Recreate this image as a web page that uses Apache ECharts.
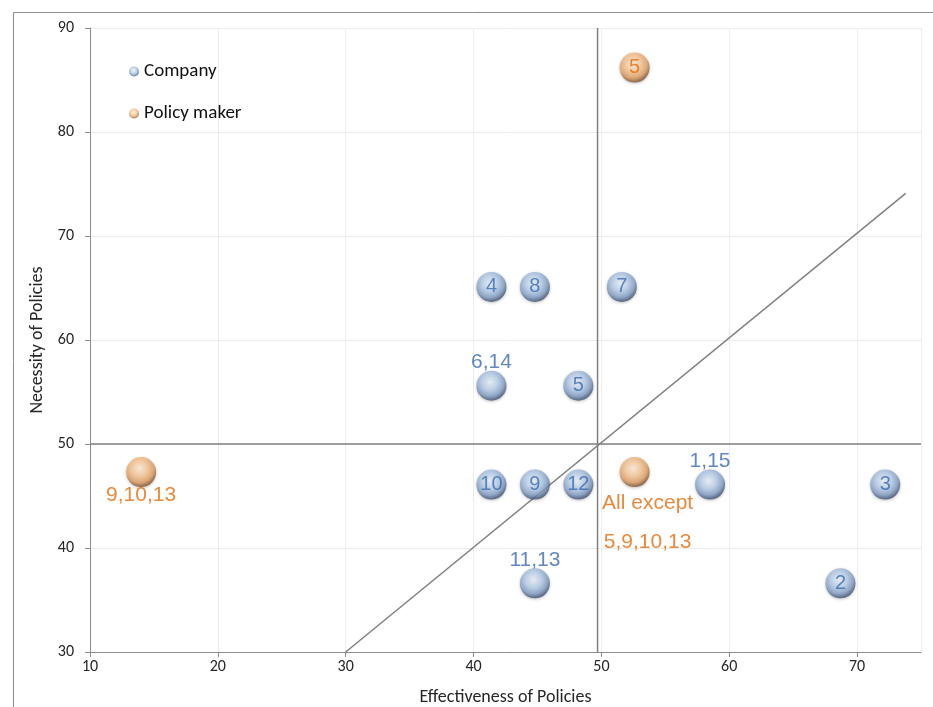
<!DOCTYPE html>
<html>
<head>
<meta charset="utf-8">
<script src="https://cdn.jsdelivr.net/npm/echarts@6/dist/echarts.min.js"></script>
<style>
  html, body { margin: 0; padding: 0; background: #fff; }
  #chart { width: 933px; height: 707px; }
</style>
</head>
<body>
<div id="chart"></div>
<script>
// Company ratings: effectiveness (x) vs necessity (y) per policy group
const companyX = [41.4, 44.8, 51.6, 41.4, 48.2, 41.4, 44.8, 48.2, 58.5, 72.2, 44.8, 68.7];
const companyY = [65.1, 65.1, 65.1, 55.6, 55.6, 46.1, 46.1, 46.1, 46.1, 46.1, 36.6, 36.6];
const companyLabels = ['4', '8', '7', '6,14', '5', '10', '9', '12', '1,15', '3', '11,13', '2'];

// Policy maker ratings
const policyX = [52.6, 14.0, 52.6];
const policyY = [86.2, 47.3, 47.3];
const policyLabels = ['5', '9,10,13', 'All except\n5,9,10,13'];

// Quadrant divider and diagonal reference
const hLineX = [10, 75];
const hLineY = [50, 50];
const vLineX = [49.7, 49.7];
const vLineY = [30, 90];
const diagX = [30, 73.8];
const diagY = [30, 74.1];

const xTicks = { min: 10, max: 75, interval: 10 };
const yTicks = { min: 30, max: 90, interval: 10 };

const blueSphere = {
  type: 'radial', x: 0.45, y: 0.38, r: 0.6,
  colorStops: [
    { offset: 0, color: '#eef5fd' },
    { offset: 0.45, color: '#b8d0ed' },
    { offset: 0.78, color: '#839fc6' },
    { offset: 1, color: '#43577a' }
  ]
};
const orangeSphere = {
  type: 'radial', x: 0.45, y: 0.38, r: 0.6,
  colorStops: [
    { offset: 0, color: '#fff0de' },
    { offset: 0.45, color: '#fbc895' },
    { offset: 0.78, color: '#e29f62' },
    { offset: 1, color: '#885830' }
  ]
};

const BLUE_TEXT = '#3a6ab0';
const ORANGE_TEXT = '#e46c0a';

function labelPlacement(text, color) {
  const base = { show: true, formatter: text, color: color,
    fontFamily: 'Liberation Sans, Arial, sans-serif', fontSize: 21 };
  if (text.indexOf('\n') >= 0) {
    return Object.assign(base, { position: 'inside', offset: [13, 51], lineHeight: 39 });
  }
  if (text.indexOf(',') >= 0) {
    const below = color === ORANGE_TEXT;
    return Object.assign(base, { position: below ? 'bottom' : 'top', distance: -2 });
  }
  return Object.assign(base, { position: 'inside', fontSize: 20 });
}

function buildPoints(xs, ys, labels, color) {
  return xs.map((x, i) => ({
    value: [x, ys[i]],
    label: labelPlacement(labels[i], color)
  }));
}

const FONT = 'Carlito, Calibri, "Open Sans", sans-serif';
const tickFont = { fontFamily: FONT, fontSize: 16, color: '#262626' };
const nameFont = { fontFamily: FONT, fontSize: 18, color: '#262626' };

const chart = echarts.init(document.getElementById('chart'), null, { renderer: 'canvas' });
chart.setOption({
  animation: false,
  backgroundColor: '#fff',
  graphic: [{
    type: 'rect', left: 11, top: 10, z: -10,
    shape: { width: 940, height: 720 },
    style: { fill: 'none', stroke: '#8c8c8c', lineWidth: 1 }
  }],
  grid: { left: 90, right: 12, top: 28, bottom: 55, containLabel: false, outerBoundsMode: 'none' },
  legend: {
    orient: 'vertical', left: 124, top: 57, itemGap: 23,
    icon: 'circle', itemWidth: 10, itemHeight: 10,
    textStyle: { fontFamily: FONT, fontSize: 19, color: '#111' },
    data: ['Company', 'Policy maker']
  },
  xAxis: {
    type: 'value', min: xTicks.min, max: xTicks.max, interval: xTicks.interval,
    name: 'Effectiveness of Policies', nameLocation: 'middle', nameGap: 36,
    nameTextStyle: nameFont,
    axisLine: { show: true, lineStyle: { color: '#8c8c8c', width: 1 } },
    axisTick: { show: true, length: 5, lineStyle: { color: '#8c8c8c' } },
    axisLabel: Object.assign({ margin: 7, showMaxLabel: false }, tickFont),
    splitLine: { show: true, lineStyle: { color: '#ececec', width: 1 } }
  },
  yAxis: {
    type: 'value', min: yTicks.min, max: yTicks.max, interval: yTicks.interval,
    name: 'Necessity of Policies', nameLocation: 'middle', nameGap: 41,
    nameTextStyle: nameFont,
    axisLine: { show: true, lineStyle: { color: '#8c8c8c', width: 1 } },
    axisTick: { show: true, length: 5, lineStyle: { color: '#8c8c8c' } },
    axisLabel: Object.assign({ margin: 16 }, tickFont),
    splitLine: { show: true, lineStyle: { color: '#ececec', width: 1 } }
  },
  series: [
    {
      type: 'line', silent: true, symbol: 'none', z: 1,
      lineStyle: { color: '#808080', width: 1.5 },
      data: hLineX.map((x, i) => [x, hLineY[i]])
    },
    {
      type: 'line', silent: true, symbol: 'none', z: 1,
      lineStyle: { color: '#808080', width: 1.5 },
      data: vLineX.map((x, i) => [x, vLineY[i]])
    },
    {
      type: 'line', silent: true, symbol: 'none', z: 1,
      lineStyle: { color: '#808080', width: 1.5 },
      data: diagX.map((x, i) => [x, diagY[i]])
    },
    {
      name: 'Company', type: 'scatter', symbolSize: 30, z: 3,
      itemStyle: { color: blueSphere, shadowColor: 'rgba(0,0,0,0.3)', shadowBlur: 3, shadowOffsetY: 1 },
      data: buildPoints(companyX, companyY, companyLabels, BLUE_TEXT)
    },
    {
      name: 'Policy maker', type: 'scatter', symbolSize: 30, z: 3,
      itemStyle: { color: orangeSphere, shadowColor: 'rgba(0,0,0,0.3)', shadowBlur: 3, shadowOffsetY: 1 },
      data: buildPoints(policyX, policyY, policyLabels, ORANGE_TEXT)
    }
  ]
});
</script>
</body>
</html>
